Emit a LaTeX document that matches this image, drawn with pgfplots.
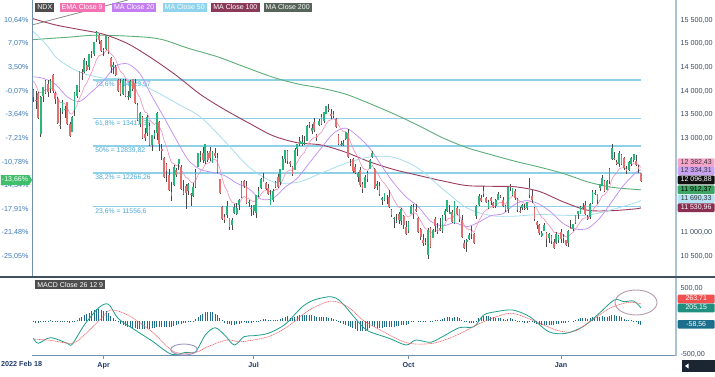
\documentclass[border=0pt]{standalone}
\usepackage{pgfplots}
\pgfplotsset{compat=1.18}
\usepackage{pgfplotstable}
\usepackage{fontspec}
\setmainfont{Liberation Sans}
\usetikzlibrary{shapes.symbols}
\definecolor{upc}{HTML}{27B77A}
\definecolor{dnc}{HTML}{E36F6F}
\definecolor{wick}{HTML}{4A4A4A}
\definecolor{ema9}{HTML}{F48FB8}
\definecolor{ma20}{HTML}{C08CF5}
\definecolor{ma50}{HTML}{A8DDF0}
\definecolor{ma100}{HTML}{9A3D5E}
\definecolor{ma200}{HTML}{5DAE78}
\definecolor{fib}{HTML}{8ED0E6}
\definecolor{fibtxt}{HTML}{4BA9D6}
\definecolor{pcttxt}{HTML}{3B78B8}
\definecolor{pricetxt}{HTML}{3A4B5E}
\definecolor{axline}{HTML}{A9C3D6}
\definecolor{leftline}{HTML}{7090AE}
\definecolor{sepline}{HTML}{3F5060}
\definecolor{macdc}{HTML}{1E9E8C}
\definecolor{sigc}{HTML}{F26565}
\definecolor{histc}{HTML}{1F6F8B}
\definecolor{navyx}{HTML}{1E3A66}
\definecolor{trendc}{HTML}{8A8A8A}
\definecolor{tagndx}{HTML}{4D4D4D}
\definecolor{tagema}{HTML}{F272B2}
\definecolor{tagma20}{HTML}{C37EF2}
\definecolor{tagma50}{HTML}{8FD3EC}
\definecolor{tagma100}{HTML}{8A3A58}
\definecolor{tagma200}{HTML}{56645A}
\definecolor{ellA}{HTML}{9C95C0}
\definecolor{ellB}{HTML}{B89AAE}
\definecolor{darktxt}{HTML}{333333}
\definecolor{tEma}{HTML}{F7A6CB}
\definecolor{tMa20}{HTML}{C9A3F2}
\definecolor{tLast}{HTML}{111111}
\definecolor{tMa200}{HTML}{3FA564}
\definecolor{tMa50}{HTML}{B5E3F5}
\definecolor{tMa100}{HTML}{8A2E52}
\definecolor{tSig}{HTML}{F24F4F}
\definecolor{tMacd}{HTML}{1F8F80}
\definecolor{tHist}{HTML}{1C6F8C}
\definecolor{tPct}{HTML}{3FBF6A}
\definecolor{scrollc}{HTML}{1C2633}

\pgfplotstableread{
i o h l c
0 14020 14040 13770 13868
1 13800 14010 13630 13781
2 13960 13970 13420 13431
3 13100 13900 13021 13878
4 13900 14090 13770 14079
5 13960 14240 13930 14205
6 14150 14230 13880 13980
7 14040 14260 13950 14213
8 14340 14370 13950 14000
9 13950 13980 13720 13838
10 13830 13870 13310 13319
11 13290 13640 13200 13285
12 13550 13800 13520 13772
13 13590 13680 13420 13618
14 13760 13770 13290 13301
15 13300 13350 13020 13047
16 13140 13470 13130 13458
17 13590 13970 13470 13960
18 13900 14120 13860 14118
19 14020 14430 13980 14421
20 14400 14470 14240 14378
21 14400 14690 14380 14659
22 14560 14640 14440 14443
23 14500 14780 14440 14776
24 14790 14840 14690 14808
25 14790 15030 14730 15027
26 15110 15265 15030 15240
27 15180 15210 15000 15071
28 15060 15080 14830 14839
29 14870 14900 14730 14862
30 14880 15170 14870 15160
31 15120 15150 14780 14834
32 14700 14710 14390 14509
33 14500 14620 14370 14550
34 14510 14550 14340 14349
35 14230 14260 13990 13996
36 14160 14260 13900 13927
37 13930 14260 13910 14227
38 14220 14250 13890 13897
39 13870 13990 13800 13900
40 13880 14230 13860 14211
41 14250 14260 13990 14042
42 14160 14260 13720 13746
43 13700 13740 13370 13383
44 13300 13560 13240 13544
45 13450 13470 13010 13013
46 13090 13210 12950 12999
47 13110 13490 13040 13461
48 13250 13330 12850 12855
49 12860 13080 12730 13072
50 13050 13180 12980 13117
51 13110 13560 12960 13536
52 13350 13360 12730 12872
53 12770 12870 12550 12730
54 12590 12610 12170 12185
55 12450 12470 12080 12300
56 12230 12350 11900 11913
57 11770 12080 11680 11874
58 12020 12440 12000 12387
59 12320 12380 12180 12233
60 12450 12570 12330 12562
61 12400 12440 11920 11935
62 11830 12110 11800 11879
63 11990 12030 11500 11835
64 11890 12050 11810 12044
65 11830 11840 11570 11794
66 11770 12050 11760 11977
67 11970 12360 11940 12298
68 12400 12685 12390 12682
69 12600 12740 12500 12643
70 12700 12810 12480 12542
71 12520 12880 12450 12876
72 12700 12730 12500 12542
73 12730 12810 12530 12589
74 12480 12730 12470 12716
75 12680 12790 12590 12625
76 12580 12680 12270 12280
77 12130 12140 11830 11843
78 11540 11560 11280 11295
79 11340 11400 11210 11281
80 11380 11680 11320 11567
81 11310 11320 11070 11128
82 11170 11310 11070 11265
83 11420 11620 11400 11542
84 11390 11630 11380 11527
85 11600 11720 11490 11697
86 11750 12090 11740 12085
87 12100 12120 11960 11993
88 12000 12090 11620 11632
89 11640 11700 11550 11655
90 11520 11600 11350 11503
91 11460 11590 11380 11585
92 11430 11810 11320 11800
93 11810 11970 11760 11888
94 11940 12160 11930 12150
95 12080 12260 12070 12167
96 12060 12080 11910 11928
97 11950 12040 11800 11831
98 11600 11900 11580 11811
99 11700 11920 11660 11893
100 11980 12100 11940 12084
101 12190 12240 11940 11962
102 12070 12360 12020 12346
103 12340 12630 12330 12573
104 12560 12760 12480 12744
105 12730 12750 12460 12517
106 12500 12530 12390 12467
107 12400 12410 12200 12237
108 12340 12790 12330 12751
109 12770 12890 12630 12876
110 12870 13020 12830 12947
111 12880 13070 12840 12932
112 12890 13050 12860 12896
113 12950 13280 12950 13261
114 13280 13340 13220 13334
115 13150 13300 13100 13213
116 13350 13420 13130 13168
117 13080 13100 12950 13010
118 13290 13400 13250 13376
119 13450 13510 13280 13296
120 13370 13560 13330 13560
121 13520 13690 13510 13683
122 13630 13720 13560 13628
123 13510 13620 13410 13479
124 13470 13570 13420 13507
125 13400 13420 13230 13243
126 13080 13090 12870 12882
127 12880 12950 12840 12867
128 12850 12970 12830 12901
129 12980 13140 12960 13138
130 13120 13190 12600 12605
131 12480 12570 12420 12462
132 12560 12580 12260 12318
133 12400 12450 12260 12273
134 12180 12290 12070 12264
135 12340 12400 11980 12014
136 12040 12070 11850 11935
137 11960 12230 11950 12191
138 12130 12300 12080 12265
139 12360 12560 12360 12536
140 12600 12740 12590 12692
141 12350 12370 11930 11957
142 12000 12090 11910 12034
143 11990 12070 11790 11824
144 11690 11760 11580 11748
145 11690 11850 11670 11834
146 11740 11810 11620 11740
147 11760 11900 11540 11550
148 11480 11510 11340 11386
149 11300 11330 11110 11312
150 11250 11400 11200 11254
151 11400 11450 11180 11271
152 11250 11520 11170 11501
153 11360 11370 11080 11164
154 11120 11250 10970 10972
155 11040 11250 10990 11225
156 11400 11590 11390 11570
157 11400 11610 11300 11545
158 11500 11620 11440 11459
159 11320 11330 10990 11022
160 11080 11110 10860 10912
161 10860 10980 10720 10789
162 10800 10890 10750 10780
163 10530 11100 10440 11058
164 11110 11120 10690 10704
165 10900 11080 10890 11062
166 11300 11330 11020 11146
167 11010 11200 10970 11102
168 11100 11310 11030 11064
169 11030 11380 11000 11361
170 11370 11500 11260 11468
171 11460 11690 11440 11687
172 11410 11600 11390 11440
173 11450 11480 11200 11238
174 11200 11680 11180 11669
175 11530 11560 11370 11405
176 11500 11510 11230 11291
177 11280 11380 10900 10908
178 10780 10850 10660 10690
179 10800 10880 10600 10857
180 10880 10990 10840 10964
181 10980 11140 10880 11039
182 10980 10990 10780 10792
183 11350 11590 11300 11572
184 11600 11830 11560 11787
185 11730 11810 11650 11666
186 11890 12000 11750 11827
187 11730 11760 11650 11660
188 11520 11690 11500 11646
189 11730 11760 11600 11677
190 11630 11660 11530 11538
191 11560 11710 11530 11700
192 11700 11870 11690 11822
193 11780 11800 11730 11749
194 11700 11760 11560 11574
195 11570 11600 11440 11474
196 11500 11980 11430 11975
197 11990 12040 11880 11982
198 11800 11960 11770 11948
199 11880 11930 11700 11730
200 11720 11730 11450 11494
201 11460 11540 11420 11450
202 11530 11620 11480 11600
203 11530 11620 11500 11505
204 11520 11660 11480 11654
205 11950 12170 11730 11794
206 11780 11900 11640 11704
207 11520 11540 11260 11303
208 11240 11260 11080 11175
209 11170 11180 10960 10999
210 10940 11050 10910 10998
211 11040 11200 11030 11163
212 11000 11010 10710 10873
213 10890 10990 10790 10985
214 10940 10950 10760 10822
215 10800 10880 10670 10679
216 10780 11010 10770 10978
217 10850 10950 10790 10940
218 11010 11090 10790 10863
219 10920 10980 10790 10914
220 10840 10850 10720 10741
221 10790 11070 10700 11040
222 11110 11270 11090 11108
223 11080 11190 11040 11181
224 11210 11380 11190 11381
225 11410 11470 11300 11460
226 11400 11560 11390 11542
227 11530 11640 11510 11554
228 11590 11680 11380 11401
229 11340 11380 11270 11298
230 11330 11630 11300 11620
231 11640 11900 11620 11872
232 11820 11900 11800 11847
233 11700 11820 11610 11814
234 11940 12040 11880 12033
235 11990 12230 11990 12167
236 12090 12110 11890 11894
237 11910 12110 11900 12102
238 12090 12370 12030 12351
239 12560 12880 12550 12804
240 12590 12720 12550 12574
241 12500 12540 12440 12454
242 12460 12730 12400 12696
243 12650 12660 12460 12466
244 12590 12600 12320 12362
245 12350 12420 12250 12306
246 12330 12510 12300 12493
247 12460 12610 12420 12593
248 12540 12670 12500 12661
249 12510 12640 12430 12439
250 12400 12430 12260 12358
251 12260 12275 12080 12096.88
}\ohlc

\pgfplotstableread{
i v
0 14214
1 14127
2 13988
3 13966
4 13989
5 14032
6 14022
7 14060
8 14048
9 14006
10 13869
11 13752
12 13756
13 13728
14 13643
15 13524
16 13511
17 13601
18 13704
19 13847
20 13953
21 14094
22 14164
23 14286
24 14390
25 14517
26 14662
27 14744
28 14763
29 14783
30 14858
31 14853
32 14784
33 14737
34 14659
35 14526
36 14406
37 14370
38 14275
39 14200
40 14202
41 14170
42 14085
43 13945
44 13865
45 13695
46 13556
47 13537
48 13401
49 13335
50 13291
51 13340
52 13246
53 13143
54 12951
55 12821
56 12639
57 12486
58 12466
59 12419
60 12448
61 12345
62 12252
63 12169
64 12144
65 12074
66 12055
67 12104
68 12220
69 12305
70 12352
71 12457
72 12474
73 12497
74 12541
75 12558
76 12502
77 12370
78 12155
79 11980
80 11897
81 11743
82 11647
83 11626
84 11606
85 11624
86 11716
87 11771
88 11743
89 11725
90 11681
91 11662
92 11690
93 11730
94 11814
95 11885
96 11894
97 11881
98 11867
99 11872
100 11914
101 11924
102 12008
103 12121
104 12246
105 12300
106 12333
107 12314
108 12401
109 12496
110 12586
111 12655
112 12703
113 12815
114 12919
115 12978
116 13016
117 13015
118 13087
119 13129
120 13215
121 13309
122 13373
123 13394
124 13417
125 13382
126 13282
127 13199
128 13139
129 13139
130 13032
131 12918
132 12798
133 12693
134 12607
135 12488
136 12377
137 12340
138 12325
139 12367
140 12432
141 12337
142 12276
143 12186
144 12098
145 12045
146 11984
147 11897
148 11795
149 11698
150 11609
151 11541
152 11533
153 11459
154 11362
155 11335
156 11382
157 11415
158 11424
159 11344
160 11258
161 11164
162 11087
163 11081
164 11006
165 11017
166 11043
167 11055
168 11057
169 11118
170 11188
171 11288
172 11318
173 11302
174 11375
175 11381
176 11363
177 11272
178 11156
179 11096
180 11070
181 11064
182 11010
183 11122
184 11255
185 11337
186 11435
187 11480
188 11513
189 11546
190 11544
191 11575
192 11624
193 11649
194 11634
195 11602
196 11677
197 11738
198 11780
199 11770
200 11715
201 11662
202 11650
203 11621
204 11628
205 11661
206 11670
207 11597
208 11513
209 11410
210 11328
211 11295
212 11211
213 11166
214 11097
215 11013
216 11006
217 10993
218 10967
219 10956
220 10913
221 10938
222 10972
223 11014
224 11087
225 11162
226 11238
227 11301
228 11321
229 11316
230 11377
231 11476
232 11550
233 11603
234 11689
235 11785
236 11807
237 11866
238 11963
239 12131
240 12220
241 12267
242 12353
243 12376
244 12373
245 12360
246 12387
247 12428
248 12475
249 12468
250 12446
251 12382
}\emanine

\pgfplotstableread{
i v
0 -15
1 -20
2 -25
3 -15
4 -5
5 5
6 10
7 15
8 10
9 5
10 -5
11 -10
12 -5
13 -10
14 -15
15 -20
16 -15
17 5
18 25
19 45
20 70
21 95
22 110
23 130
24 150
25 170
26 185
27 185
28 175
29 160
30 150
31 120
32 80
33 50
34 20
35 -10
36 -40
37 -55
38 -70
39 -85
40 -90
41 -95
42 -100
43 -110
44 -115
45 -120
46 -115
47 -110
48 -110
49 -105
50 -95
51 -80
52 -85
53 -85
54 -90
55 -90
56 -85
57 -80
58 -65
59 -55
60 -40
61 -35
62 -30
63 -25
64 -15
65 -5
66 5
67 30
68 60
69 90
70 115
71 135
72 145
73 145
74 135
75 115
76 90
77 55
78 15
79 -20
80 -35
81 -45
82 -50
83 -50
84 -45
85 -35
86 -20
87 -15
88 -20
89 -25
90 -20
91 -15
92 -5
93 5
94 20
95 30
96 30
97 25
98 20
99 20
100 25
101 25
102 35
103 50
104 70
105 75
106 55
107 50
108 70
109 85
110 95
111 95
112 90
113 95
114 100
115 95
116 85
117 70
118 65
119 60
120 60
121 60
122 55
123 45
124 30
125 15
126 -10
127 -30
128 -40
129 -50
130 -70
131 -90
132 -105
133 -120
134 -140
135 -150
136 -150
137 -140
138 -125
139 -100
140 -75
141 -90
142 -95
143 -100
144 -100
145 -90
146 -85
147 -85
148 -85
149 -80
150 -75
151 -65
152 -55
153 -50
154 -50
155 -35
156 -15
157 -5
158 0
159 -10
160 -15
161 -15
162 -15
163 0
164 -10
165 5
166 15
167 20
168 20
169 35
170 50
171 65
172 65
173 55
174 65
175 60
176 45
177 20
178 -5
179 -15
180 -20
181 -20
182 -25
183 10
184 45
185 60
186 75
187 75
188 75
189 70
190 60
191 55
192 50
193 45
194 35
195 25
196 40
197 45
198 40
199 25
200 5
201 -10
202 -15
203 -20
204 -20
205 -15
206 -15
207 -30
208 -45
209 -55
210 -60
211 -55
212 -60
213 -55
214 -55
215 -55
216 -40
217 -35
218 -30
219 -25
220 -25
221 -10
222 0
223 10
224 25
225 35
226 45
227 50
228 45
229 35
230 45
231 60
232 65
233 65
234 70
235 75
236 65
237 65
238 75
239 95
240 90
241 75
242 75
243 60
244 40
245 25
246 20
247 15
248 10
249 -15
250 -35
251 -58.56
}\histo

\pgfplotsset{
  panel/.style={anchor=south west, scale only axis, width=644pt,
    xmin=-0.6, xmax=265.5, scaled y ticks=false, scaled x ticks=false},
  mainpanel/.style={panel, at={(32pt,99pt)}, height=277pt, ymin=10068, ymax=15924},
}
\newcommand{\tickfont}{\fontsize{7.2}{8.4}\selectfont}
\newcommand{\fibfont}{\fontsize{6.8}{8}\selectfont}

\begin{document}
\begin{tikzpicture}[x=1pt,y=1pt]
\useasboundingbox (0,0) rectangle (715,376);
\fill[white] (0,0) rectangle (715,376);

% --- Fibonacci levels
\begin{axis}[mainpanel, hide axis]
\addplot[fib, line width=1.4pt] coordinates {(24.6,14229.97) (251,14229.97)};
\addplot[fib, line width=1.4pt] coordinates {(24.6,13413.38) (251,13413.38)};
\addplot[fib, line width=1.4pt] coordinates {(24.6,12839.82) (251,12839.82)};
\addplot[fib, line width=1.4pt] coordinates {(24.6,12266.26) (251,12266.26)};
\addplot[fib, line width=1.4pt] coordinates {(24.6,11556.6) (251,11556.6)};
\node[anchor=north west, inner sep=0.5pt, yshift=-1.2pt, font=\fibfont, text=fibtxt] at (axis cs:25.3,14229.97) {78,6\% = 14229,97};
\node[anchor=north west, inner sep=0.5pt, yshift=-1.2pt, font=\fibfont, text=fibtxt] at (axis cs:25.3,13413.38) {61,8\% = 13413,38};
\node[anchor=north west, inner sep=0.5pt, yshift=-1.2pt, font=\fibfont, text=fibtxt] at (axis cs:25.3,12839.82) {50\% = 12839,82};
\node[anchor=north west, inner sep=0.5pt, yshift=-1.2pt, font=\fibfont, text=fibtxt] at (axis cs:25.3,12266.26) {38,2\% = 12266,26};
\node[anchor=north west, inner sep=0.5pt, yshift=-1.2pt, font=\fibfont, text=fibtxt] at (axis cs:25.3,11556.6) {23,6\% = 11556,6};
\end{axis}

% --- price panel
\begin{axis}[mainpanel,
  axis x line=none, axis y line*=right, axis line style={-},
  y axis line style={draw=axline, line width=1.3pt},
  ytick={10500,11000,13000,13500,14000,14500,15000,15500},
  yticklabels={{10 500,00},{11 000,00},{13 000,00},{13 500,00},{14 000,00},{14 500,00},{15 000,00},{15 500,00}},
  ytick style={draw=none}, major tick length=0pt,
  yticklabel style={font=\tickfont, text=pricetxt, xshift=1pt}]
\addplot[ma200, line width=0.9pt, smooth] coordinates {
(-0.6,15085) (15,15140) (26,15180) (43,15150) (53,15090) (64,14903) (76,14725) (87,14514)
(99,14290) (109,14152) (119,14059) (129,13934) (139,13733) (149,13514) (159,13273)
(169,13013) (179,12804) (189,12655) (199,12515) (209,12392) (219,12256) (229,12079)
(239,11965) (249,11919) (251,11912)};
\addplot[ma100, line width=0.9pt, smooth] coordinates {
(-0.6,15535) (9,15398) (19,15300) (29,15200) (39,15000) (49,14689) (59,14330) (69,13927)
(79,13607) (89,13323) (99,13054) (109,12907) (119,12858) (129,12706) (139,12501)
(149,12339) (159,12217) (169,12100) (179,12001) (189,11986) (199,11976) (209,11877)
(219,11655) (229,11480) (239,11470) (249,11510) (251,11531)};
\addplot[ma50, line width=0.8pt, smooth] coordinates {
(-0.6,15280) (5,15000) (10,14680) (19,14401) (29,14273) (39,14250) (49,14027) (59,13745) (69,13452)
(79,12941) (89,12396) (99,12081) (109,12069) (119,12265) (129,12471) (139,12606)
(149,12596) (159,12365) (169,11936) (179,11531) (189,11366) (199,11355) (209,11389)
(219,11373) (229,11375) (239,11492) (249,11643) (251,11690)};
\addplot[ma20, line width=0.7pt, smooth] coordinates {
(0,14300) (4,14269) (9,14146) (14,13875) (19,13779) (24,13980) (29,14220) (34,14525)
(39,14573) (44,14366) (49,13884) (54,13436) (59,12974) (64,12540) (69,12340) (74,12281)
(79,12212) (84,12051) (89,11934) (94,11717) (99,11732) (104,11966) (109,12156) (114,12478)
(119,12800) (124,13107) (129,13216) (134,13044) (139,12788) (144,12407) (149,12047)
(154,11759) (159,11553) (164,11252) (169,11148) (174,11215) (179,11132) (184,11227)
(189,11364) (194,11408) (199,11606) (204,11684) (209,11609) (214,11431) (219,11195)
(224,11082) (229,11096) (234,11313) (239,11661) (244,12016) (249,12277) (251,12334)};
\addplot[ema9, line width=0.6pt] table[x=i, y=v] {\emanine};
\addplot[trendc, line width=0.8pt] coordinates {(-0.6,15396) (39,15924)};
% wicks
\addplot[draw=none, mark=none, forget plot,
  error bars/.cd, y dir=both, y explicit, error mark=none,
  error bar style={draw=wick, line width=0.5pt}]
  table[x=i, y=c, y error plus expr=\thisrow{h}-\thisrow{c}, y error minus expr=\thisrow{c}-\thisrow{l}] {\ohlc};
% up bodies
\addplot[draw=none, mark=none, forget plot,
  restrict expr to domain={\thisrow{c}-\thisrow{o}}{0:100000},
  error bars/.cd, y dir=plus, y explicit, error mark=none,
  error bar style={draw=upc, line width=1.7pt}]
  table[x=i, y=o, y error expr=\thisrow{c}-\thisrow{o}] {\ohlc};
% down bodies
\addplot[draw=none, mark=none, forget plot,
  restrict expr to domain={\thisrow{o}-\thisrow{c}}{0.001:100000},
  error bars/.cd, y dir=minus, y explicit, error mark=none,
  error bar style={draw=dnc, line width=1.7pt}]
  table[x=i, y=o, y error expr=\thisrow{o}-\thisrow{c}] {\ohlc};
\end{axis}

% --- percent axis (left)
\begin{axis}[panel, at={(32pt,99pt)}, height=277pt, ymin=-28.137, ymax=13.662,
  axis x line=none, axis y line*=left, axis line style={-},
  y axis line style={draw=leftline, line width=0.8pt},
  ytick={-25.05,-21.48,-17.91,-14.34,-10.78,-7.21,-3.64,-0.07,3.50,7.07,10.64},
  yticklabels={{-25,05\%},{-21,48\%},{-17,91\%},{-14,34\%},{-10,78\%},{-7,21\%},{-3,64\%},{-0,07\%},{3,50\%},{7,07\%},{10,64\%}},
  ytick style={draw=none}, major tick length=0pt,
  yticklabel style={font=\tickfont, text=pcttxt}]
\end{axis}

% --- MACD panel
\begin{axis}[panel, at={(32pt,20.3pt)}, height=78.7pt, ymin=-521, ymax=671,
  axis x line*=bottom, axis y line*=right, axis line style={-},
  x axis line style={draw=leftline, line width=0.9pt},
  y axis line style={draw=axline, line width=1.3pt},
  xtick={29,91,155,218}, xticklabels={Apr,Jul,Oct,Jan},
  tick align=outside, major tick length=3.5pt,
  xtick style={draw=leftline, line width=0.7pt},
  xticklabel style={font=\bfseries\tickfont, text=navyx},
  ytick={-500,500}, yticklabels={{-500,00},{500,00}},
  ytick style={draw=none},
  yticklabel style={font=\tickfont, text=pricetxt, xshift=-2.5pt}]
\addplot[ycomb, histc, line width=0.9pt] table[x=i, y=v] {\histo};
\addplot[macdc, line width=0.8pt, smooth] coordinates {
(0,-258) (2,-333) (7,-248) (14,-333) (16,-348) (21,-56) (27,206) (31,258) (35,44)
(42,-132) (49,-298) (57,-500) (63,-470) (67,-460) (71,-208) (75,-97) (79,-208) (83,-359)
(87,-233) (91,-218) (97,-182) (104,-45) (111,217) (116,323) (123,373) (127,297) (133,44)
(136,-82) (139,-159) (147,-258) (154,-359) (158,-283) (164,-318) (169,-233) (176,-97)
(182,-82) (186,95) (191,145) (198,171) (205,70) (213,-159) (220,-182) (227,-82) (233,95)
(240,323) (244,297) (248,307) (251,205.15)};
\addplot[sigc, line width=0.6pt, dash pattern=on 1.2pt off 0.6pt, smooth] coordinates {
(0,-270) (7,-288) (16,-333) (21,-208) (28,44) (32,171) (39,95) (49,-159) (58,-460)
(67,-470) (72,-384) (80,-283) (86,-309) (97,-233) (105,-82) (114,171) (123,306) (130,217)
(136,20) (142,-106) (154,-323) (165,-333) (175,-208) (186,-6) (197,121) (206,20)
(216,-132) (223,-159) (230,-6) (238,195) (246,288) (251,263.71)};
\end{axis}

% separator
\draw[sepline, line width=1.3pt] (0,99) -- (715,99);

% annotations
\draw[ellA, line width=0.9pt] (184,26.5) ellipse (13.3 and 5.5);
\draw[ellB, line width=0.9pt] (636,73.5) ellipse (21 and 12.5);

% legend tags
\tikzset{tag/.style={anchor=west, inner xsep=2.2pt, inner ysep=0pt, minimum height=9pt, text=white, font=\fontsize{7}{8}\selectfont}}
\node[tag, fill=tagndx] at (35,368.8) {NDX};
\node[tag, fill=tagema] at (59.3,368.8) {EMA Close 9};
\node[tag, fill=tagma20] at (111.7,368.8) {MA Close 20};
\node[tag, fill=tagma50] at (162.3,368.8) {MA Close 50};
\node[tag, fill=tagma100] at (211,368.8) {MA Close 100};
\node[tag, fill=tagma200] at (263.3,368.8) {MA Close 200};
\node[tag, fill=tagndx] at (35,91.5) {MACD Close 26 12 9};

% right price tags
\tikzset{ptag/.style={anchor=west, inner xsep=1.8pt, inner ysep=0pt, minimum height=8.6pt, minimum width=37pt, rounded corners=1pt, font=\fontsize{7}{8}\selectfont}}
\node[ptag, fill=tEma, text=darktxt] at (677.5,213.3) {12 382,43};
\node[ptag, fill=tMa20, text=darktxt] at (677.5,205) {12 334,31};
\node[ptag, fill=tLast, text=white] at (677.5,196) {12 096,88};
\node[ptag, fill=tMa200, text=black] at (677.5,186.3) {11 912,37};
\node[ptag, fill=tMa50, text=darktxt] at (677.5,177) {11 690,33};
\node[ptag, fill=tMa100, text=white] at (677.5,168.3) {11 530,96};
% macd tags
\node[ptag, fill=tSig, text=white] at (677.5,77) {263,71\hspace{12pt}};
\node[ptag, fill=tMacd, text=white] at (677.5,68) {205,15\hspace{12pt}};
\node[ptag, fill=tHist, text=white] at (677.5,51.7) {-58,56\hspace{12pt}};

% left percent tag
\node[signal, signal to=east, signal pointer angle=120, fill=tPct, text=white, inner xsep=1.2pt, inner ysep=0pt, minimum height=10pt, font=\fontsize{7}{8}\selectfont] at (15,196) {-13,66\%};

% date label
\node[anchor=west, font=\bfseries\tickfont, text=navyx, inner sep=0pt] at (1,12) {2022 Feb 18};

% scroll widget
\fill[scrollc] (682,4) rectangle (715,16);
\fill[white] (685,10) -- (688.5,12.5) -- (688.5,7.5) -- cycle;
\end{tikzpicture}
\end{document}
